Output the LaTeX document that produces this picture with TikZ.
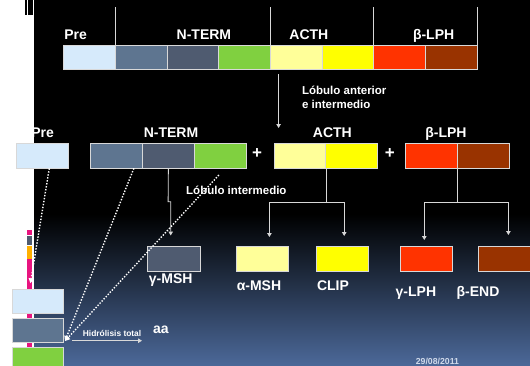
\documentclass[tikz,border=0pt]{standalone}
\usepackage{fontspec}
\setmainfont{Liberation Sans}
\usetikzlibrary{arrows.meta}
\definecolor{prec}{HTML}{D6EAFB}
\definecolor{slate}{HTML}{5E7590}
\definecolor{dslate}{HTML}{4F5B70}
\definecolor{grn}{HTML}{80D040}
\definecolor{lyel}{HTML}{FFFF99}
\definecolor{yel}{HTML}{FFFF00}
\definecolor{redc}{HTML}{FF3300}
\definecolor{brn}{HTML}{993300}
\definecolor{bord}{HTML}{D8D8D8}
\definecolor{bgblue}{RGB}{75,104,152}
\definecolor{pinkc}{HTML}{E8147F}
\definecolor{orng}{HTML}{FFB000}
\definecolor{datec}{HTML}{D0DAEA}
\tikzset{
 seg/.style={draw=bord, line width=0.8pt, minimum width=51.6pt, minimum height=24.4pt, inner sep=0pt, anchor=north west},
 lbl/.style={text=white, font=\fontsize{14}{16}\selectfont\bfseries, anchor=base, inner sep=0pt},
 lblw/.style={lbl, anchor=base west},
 small/.style={text=white, font=\fontsize{11.5}{13}\selectfont\bfseries, inner sep=0pt, anchor=base west},
 conn/.style={draw=bord, line width=0.8pt},
 arr/.style={conn, -{Triangle[width=4.5pt,length=4pt]}},
 dots/.style={draw=white, line width=1.4pt, dash pattern=on 1.4pt off 1.6pt, -{Triangle[width=5pt,length=5pt]}},
}
\begin{document}
\begin{tikzpicture}[x=1pt,y=-1pt]
\useasboundingbox (0,0) rectangle (530,365);
\fill[white] (0,0) rectangle (530,365);
\fill[black] (34,0) rectangle (530,215);
\shade[top color=black, bottom color=bgblue] (34,214) rectangle (530,365);
% left decorations
\fill[black] (25,0) rectangle (27,15);
\fill[black] (28,0) rectangle (33,15);
\fill[pinkc] (27,230) rectangle (32,235);
\fill[dslate] (27,236) rectangle (32,245);
\fill[orng] (27,246) rectangle (32,259);
\fill[pinkc] (27,259) rectangle (32,347);

% top bar
\node[seg, fill=prec]  (t1) at (63.2,44.6) {};
\node[seg, fill=slate] (t2) at (114.9,44.6) {};
\node[seg, fill=dslate](t3) at (166.6,44.6) {};
\node[seg, fill=grn]   (t4) at (218.3,44.6) {};
\node[seg, fill=lyel]  (t5) at (270.0,44.6) {};
\node[seg, fill=yel]   (t6) at (321.7,44.6) {};
\node[seg, fill=redc]  (t7) at (373.4,44.6) {};
\node[seg, fill=brn]   (t8) at (425.1,44.6) {};
\foreach \n in {t2,t5,t7}
  \draw[conn] (\n.north west) -- ++(0,-37.5);
\draw[conn] (t8.north east) -- ++(0,-37.5);
\node[lblw] (lpre) at (64.2,39.5) {Pre};
\node[lbl] (lnt) at (203.9,39.5) {N-TERM};
\node[lbl] (lac) at (308.9,39.5) {ACTH};
\node[lbl] (llp) at (433.6,39.5) {β-LPH};

\coordinate (a0) at (278.6,74.4);
\coordinate (a1) at (278.6,128);
\draw[arr] (a0) -- (a1);
\node[small] (lant) at (301.9,94.5) {Lóbulo anterior};
\node[small] (lint) at (301.9,108.7) {e intermedio};

% row 2
\node[seg, fill=prec, minimum width=51.4pt]  (p2) at (16.2,143.1) {};
\node[seg, fill=slate] (n1) at (90.3,143.1) {};
\node[seg, fill=dslate](n2) at (142.2,143.1) {};
\node[seg, fill=grn]   (n3) at (194.2,143.1) {};
\node[lbl, anchor=center, font=\fontsize{17}{18}\selectfont\bfseries] (plus1) at (257,154) {+};
\node[seg, fill=lyel]  (c1) at (273.5,143.1) {};
\node[seg, fill=yel]   (c2) at (325.4,143.1) {};
\node[lbl, anchor=center, font=\fontsize{17}{18}\selectfont\bfseries] (plus2) at (389.8,154) {+};
\node[seg, fill=redc]  (b1) at (405,143.1) {};
\node[seg, fill=brn]   (b2) at (456.9,143.1) {};
\node[lbl] (l2pre) at (42.6,137) {Pre};
\node[lbl] (l2nt) at (171,137) {N-TERM};
\node[lbl] (l2ac) at (332.4,137) {ACTH};
\node[lbl] (l2lp) at (446,137) {β-LPH};

% row 3
\node[seg, fill=dslate, minimum width=52.5pt] (g1) at (147,246.4) {};
\node[seg, fill=lyel, minimum width=52.4pt] (am) at (236,246.4) {};
\node[seg, fill=yel, minimum width=51.8pt] (cl) at (316,246.4) {};
\node[seg, fill=redc, minimum width=52.3pt] (gl) at (400,246.4) {};
\node[seg, fill=brn, minimum width=53pt] (be) at (478.4,246.4) {};
\node[lblw] (lg1) at (148.7,283.5) {γ-MSH};
\node[lblw] (lam) at (236.6,290.2) {α-MSH};
\node[lblw] (lcl) at (316.8,290.2) {CLIP};
\node[lblw] (lgl) at (395.5,296) {γ-LPH};
\node[lblw] (lbe) at (456.4,296) {β-END};

% connectors
\draw[arr] (n2.south) -- (168.1,201.7) -- (170.7,201.7) -- (170.7,235.5);
\draw[arr] (c1.south east) |- (269.4,202) -- (269.4,237);
\draw[arr] (c1.south east) |- (344.2,202) -- (344.2,236);
\draw[arr] (b1.south east) |- (424.3,202) -- (424.3,240);
\draw[arr] (b1.south east) |- (508.4,202) -- (508.4,235);
\node[small] (lli) at (186,194.5) {Lóbulo intermedio};

% left boxes
\node[seg, fill=prec, minimum width=51.4pt, minimum height=23.7pt] (L1) at (11.8,289.3) {};
\node[seg, fill=slate, minimum width=51.4pt, minimum height=23.3pt] (L2) at (11.8,318.4) {};
\node[seg, fill=grn, minimum width=51.4pt, minimum height=22pt] (L3) at (11.8,346.8) {};

\coordinate (hub) at (65,341);
\draw[dots] ([xshift=7pt]p2.south) -- ([xshift=-7.5pt,yshift=6pt]L1.north);
\draw[dots] ([xshift=17.4pt]n1.south) -- (hub);
\draw[dots] ([xshift=-1.5pt,yshift=-6.7pt]n3.south) -- (hub);

\coordinate (h1) at (72.3,340.7);
\coordinate (h2) at (142,340.7);
\draw[arr] (h1) -- (h2);
\node[text=white, font=\fontsize{8.4}{9}\selectfont\bfseries, inner sep=0pt, anchor=base west] (lhid) at (82.7,336.7) {Hidrólisis total};
\node[lblw] (laa) at (153,333) {aa};
\node[text=datec, font=\fontsize{8.7}{9}\selectfont\bfseries, inner sep=0pt, anchor=base west] (ldate) at (415.7,364.3) {29/08/2011};
\end{tikzpicture}
\end{document}
